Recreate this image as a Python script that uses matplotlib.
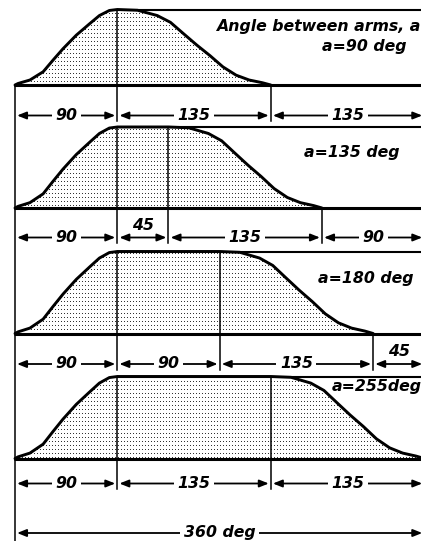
import numpy as np
import matplotlib
matplotlib.use("Agg")
import matplotlib.pyplot as plt
from matplotlib.patches import Polygon

# Normalised cam follower profiles (fraction of the stroke vs. fraction of the span)
rise_t = [0.0, 0.03, 0.146, 0.275, 0.372, 0.469, 0.599, 0.728, 0.825, 0.922, 1.0]
rise_s = [0.0, 0.02, 0.066, 0.175, 0.33, 0.48, 0.66, 0.81, 0.92, 0.987, 1.0]
fall_t = [0.0, 0.132, 0.26, 0.346, 0.431, 0.517, 0.603, 0.688, 0.774, 0.859, 0.945, 1.0]
fall_s = [1.0, 0.99, 0.92, 0.83, 0.68, 0.53, 0.39, 0.24, 0.13, 0.066, 0.03, 0.0]

# Angular spans (degrees)
rise_deg = 90
fall_deg = 135
dwell_deg = [0, 45, 90, 135]
segments = [[90, 135, 135], [90, 45, 135, 90], [90, 90, 135, 45], [90, 135, 135]]
case_labels = ["a=90 deg", "a=135 deg", "a=180 deg", "a=255deg"]
title_label = "Angle between arms, a"
total_label = "360 deg"
total_deg = 360

# Layout (vertical positions in pixel rows, top = 0)
W, H = 421, 541
PX_PER_DEG = 1.137
X0 = 15
base_y = [85, 208, 333.5, 458.5]
top_y = [9.5, 127, 251.5, 376.5]
dim_y = [115.5, 237.5, 364, 483.5]
label_pos = [(407, 47), (400, 153), (413, 279), (422, 387)]


def px2deg(px):
    return (px - X0) / PX_PER_DEG


fig = plt.figure(figsize=(W / 100, H / 100), dpi=100)
ax = fig.add_axes([0, 0, 1, 1])
ax.set_xlim(px2deg(0), px2deg(W))
ax.set_ylim(H, 0)
ax.axis("off")

font = dict(family="DejaVu Sans", fontweight="bold", style="italic", fontsize=11.3)
xmax = px2deg(W + 5)

# one-pixel stipple raster covering the canvas
stipple = np.zeros((H, W, 4))
stipple[1::4, 1::3, :3] = 0.2
stipple[1::4, 1::3, 3] = 1.0


def dim_arrow(x0, x1, y):
    ax.annotate("", xy=(x1, y), xytext=(x0, y),
                arrowprops=dict(arrowstyle="<|-|>,head_length=0.55,head_width=0.22",
                                lw=1.3, color="black", shrinkA=1.5, shrinkB=1.5,
                                mutation_scale=10),
                annotation_clip=False)


for i in range(4):
    yb, yt, yd = base_y[i], top_y[i], dim_y[i]
    h = yb - yt
    d = dwell_deg[i]

    # profile: rise, dwell, fall
    xs = [t * rise_deg for t in rise_t]
    ys = [yb - s * h for s in rise_s]
    if d > 0:
        xs.append(rise_deg + d)
        ys.append(yt)
    xs += [rise_deg + d + t * fall_deg for t in fall_t[1:]]
    ys += [yb - s * h for s in fall_s[1:]]
    end = rise_deg + d + fall_deg

    # stippled area under the profile
    poly = Polygon(list(zip(xs, ys)) + [(end, yb), (0, yb)], closed=True,
                   fc="white", ec="none", zorder=1)
    ax.add_patch(poly)
    im = ax.imshow(stipple, extent=(px2deg(0), px2deg(W), H, 0),
                   interpolation="nearest", aspect="auto", zorder=2)
    im.set_clip_path(poly)

    ax.plot(xs, ys, color="black", lw=2.1, zorder=7, solid_joinstyle="round",
            solid_capstyle="round")

    # frame lines: baseline and top line
    ax.plot([px2deg(X0 - 1), xmax], [yb, yb], color="black", lw=2.2, zorder=7,
            solid_capstyle="butt")
    ax.plot([rise_deg, xmax], [yt, yt], color="black", lw=1.5, zorder=7,
            solid_capstyle="butt")

    # extension lines
    bounds = np.cumsum(segments[i])
    for b in bounds[:-1]:
        y_from = yt if b <= rise_deg + d else yb
        ax.plot([b, b], [y_from, yd + 5.5], color="black", lw=1.1, zorder=7)

    # dimension lines with labels
    left = 0
    for seg in segments[i]:
        right = left + seg
        dim_arrow(left, right, yd)
        mid = (left + right) / 2
        if seg >= 90:
            ax.text(mid, yd, str(seg), ha="center", va="center", zorder=6,
                    bbox=dict(fc="white", ec="none", pad=2.5), **font)
        else:
            ax.text(mid, yd - 12, str(seg), ha="center", va="center", zorder=6, **font)
        left = right

    lx, ly = label_pos[i]
    ax.text(px2deg(lx), ly, case_labels[i], ha="right", va="center", zorder=8, **font)

ax.text(px2deg(420), 26, title_label, ha="right", va="center", zorder=8, **font)

# left edge line and overall span
ax.plot([0, 0], [base_y[0], H + 2], color="black", lw=1.1, zorder=7)
dim_arrow(0, total_deg, 533)
ax.text(total_deg / 2, 533, total_label, ha="center", va="center", zorder=6,
        bbox=dict(fc="white", ec="none", pad=2.5), **font)

ax.set_xlim(px2deg(0), px2deg(W))
ax.set_ylim(H, 0)
fig.savefig("out.png", dpi=100)
